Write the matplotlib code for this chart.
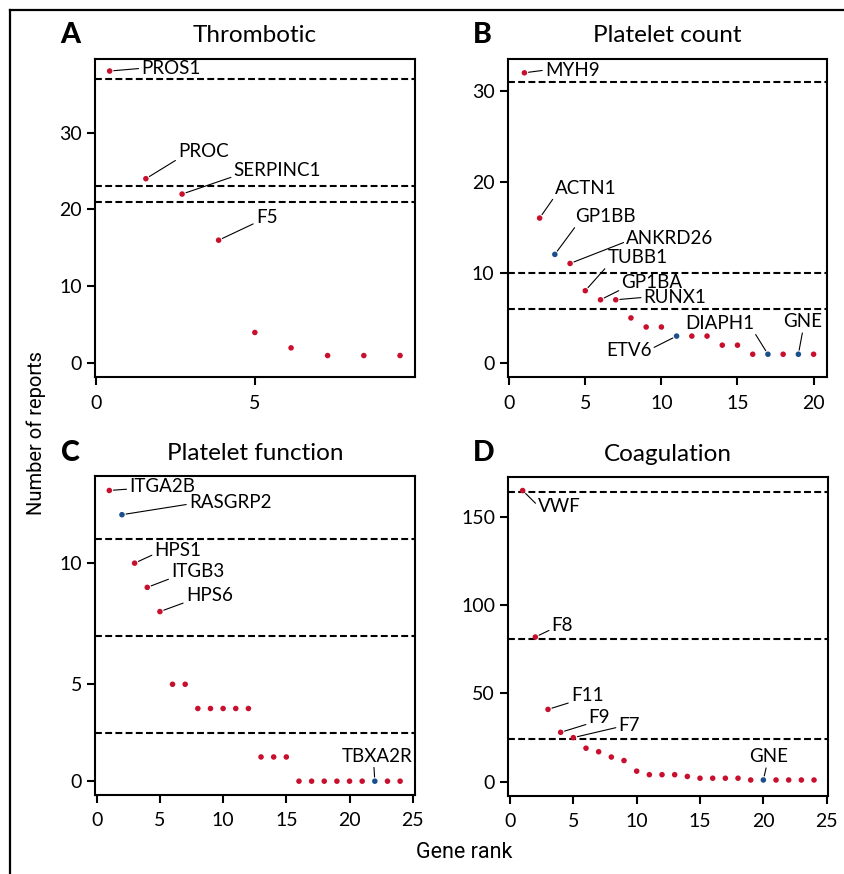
import matplotlib
matplotlib.use("Agg")
import matplotlib.pyplot as plt
from matplotlib.lines import Line2D

plt.rcParams['font.family'] = ['Lato', 'DejaVu Sans']

RED = '#c8102e'
BLUE = '#1b4f8c'

# panel A - thrombotic
a_rank = [0.43, 1.57, 2.71, 3.86, 5.0, 6.14, 7.29, 8.43, 9.57]
a_reports = [38, 24, 22, 16, 4, 2, 1, 1, 1]
a_blue = []
a_cutoffs = [37, 23, 21]
a_genes = ['PROS1', 'PROC', 'SERPINC1', 'F5']

# panel B - platelet count
b_rank = list(range(1, 21))
b_reports = [32, 16, 12, 11, 8, 7, 7, 5, 4, 4, 3, 3, 3, 2, 2, 1, 1, 1, 1, 1]
b_blue = [3, 11, 17, 19]
b_cutoffs = [31, 10, 6]
b_genes = ['MYH9', 'ACTN1', 'GP1BB', 'ANKRD26', 'TUBB1', 'GP1BA', 'RUNX1',
           'ETV6', 'DIAPH1', 'GNE']
b_gene_rank = [1, 2, 3, 4, 5, 6, 7, 11, 17, 19]

# panel C - platelet function
c_rank = list(range(1, 25))
c_reports = [13, 12, 10, 9, 8, 5, 5, 4, 4, 4, 4, 4, 2, 2, 2,
             1, 1, 1, 1, 1, 1, 1, 1, 1]
c_blue = [2, 22]
c_cutoffs = [11, 7, 3]
c_ticks = [1, 5, 10]
c_tick_labels = ['0', '5', '10']
c_genes = ['ITGA2B', 'RASGRP2', 'HPS1', 'ITGB3', 'HPS6', 'TBXA2R']
c_gene_rank = [1, 2, 3, 4, 5, 22]

# panel D - coagulation
d_rank = list(range(1, 25))
d_reports = [165, 82, 41, 28, 25, 19, 17, 14, 12, 6, 4, 4, 4, 3, 2, 2, 2, 2,
             1, 1, 1, 1, 1, 1]
d_blue = [20]
d_cutoffs = [164, 81, 24]
d_genes = ['VWF', 'F8', 'F11', 'F9', 'F7', 'GNE']
d_gene_rank = [1, 2, 3, 4, 5, 20]

# label placement: (dx px, dy px, ha, relpos)
A_POS = [(31.7, 2.7, 'left', (0, 0.5)), (32.3, 26.7, 'left', (0, 0.1)),
         (51.6, 23.6, 'left', (0, 0.15)), (37.3, 22.7, 'left', (0, 0.2))]
B_POS = [(20.6, 2.7, 'left', (0, 0.5)), (15, 30, 'left', (0, 0)),
         (20, 38, 'left', (0.03, 0)), (56.3, 25.4, 'left', (0, 0.3)),
         (22.3, 32.7, 'left', (0, 0.05)), (21, 17.3, 'left', (0, 0.1)),
         (28, 2.4, 'left', (0, 0.5)), (-25.3, -14.4, 'right', (1, 0.6)),
         (-14, 31, 'right', (1, 0)), (4.5, 32.6, 'center', (0.5, 0))]
C_POS = [(20, 4, 'left', (0, 0.35)), (67, 12.3, 'left', (0, 0.4)),
         (20, 12.6, 'left', (0, 0.3)), (24, 16, 'left', (0, 0.1)),
         (26, 16.3, 'left', (0, 0.1)), (2.5, 25, 'center', (0.45, 0))]
D_POS = [(15.6, -16.3, 'left', (0, 0.55)), (16.4, 11.3, 'left', (0, 0.3)),
         (23, 14, 'left', (0, 0.1)), (28, 14.6, 'left', (0, 0.15)),
         (45.3, 12.3, 'left', (0, 0.4)), (5.3, 23.3, 'center', (0.45, 0))]


def draw_panel(ax, rank, reports, blue_ranks, cutoffs, genes, gene_idx, pos,
               letter, title):
    for c in cutoffs:
        ax.axhline(c, color='black', lw=1.5, dashes=(3.3, 1.6), zorder=1)
    ranks_int = list(range(1, len(rank) + 1))
    colors = [BLUE if r in blue_ranks else RED for r in ranks_int]
    ax.scatter(rank, reports, s=16, c=colors, linewidths=0, zorder=3)
    for g, i, (dx, dy, ha, rp) in zip(genes, gene_idx, pos):
        ax.annotate(g, xy=(rank[i - 1], reports[i - 1]), xytext=(dx, dy),
                    textcoords='offset pixels', ha=ha, va='center',
                    fontsize=13.5,
                    arrowprops=dict(arrowstyle='-', lw=0.8, color='black',
                                    shrinkA=0, shrinkB=3, relpos=rp))
    for s in ax.spines.values():
        s.set_linewidth(1.5)
    ax.tick_params(direction='out', length=5.5, width=1.5, labelsize=14)
    ax.tick_params(axis='y', pad=4)
    ax.tick_params(axis='x', pad=7)
    ax.text(0.5, 1.072, title, transform=ax.transAxes, ha='center',
            va='center', fontsize=17.5)
    ax.text(-0.078, 1.075, letter, transform=ax.transAxes, ha='center',
            va='center', fontsize=20.5, fontweight='black')


fig = plt.figure(figsize=(8.44, 8.74), dpi=100)
W, H = 0.3787, 0.3645
axA = fig.add_axes([0.1126, 0.5683, W, H])
axB = fig.add_axes([0.6015, 0.5683, W, H])
axC = fig.add_axes([0.1126, 0.0904, W, H])
axD = fig.add_axes([0.6023, 0.0896, W, H])

draw_panel(axA, a_rank, a_reports, a_blue, a_cutoffs, a_genes, [1, 2, 3, 4],
           A_POS, 'A', 'Thrombotic')
axA.set_xlim(-0.03, 10.03)
axA.set_ylim(-1.83, 39.6)
axA.set_xticks([0, 5])
axA.set_yticks([0, 10, 20, 30])

draw_panel(axB, b_rank, b_reports, b_blue, b_cutoffs, b_genes, b_gene_rank,
           B_POS, 'B', 'Platelet count')
axB.set_xlim(-0.1, 20.9)
axB.set_ylim(-1.54, 33.55)
axB.set_xticks([0, 5, 10, 15, 20])
axB.set_yticks([0, 10, 20, 30])

draw_panel(axC, c_rank, c_reports, c_blue, c_cutoffs, c_genes, c_gene_rank,
           C_POS, 'C', 'Platelet function')
axC.set_xlim(-0.13, 25.15)
axC.set_ylim(0.43, 13.58)
axC.set_xticks([0, 5, 10, 15, 20, 25])
axC.set_yticks(c_ticks, labels=c_tick_labels)

draw_panel(axD, d_rank, d_reports, d_blue, d_cutoffs, d_genes, d_gene_rank,
           D_POS, 'D', 'Coagulation')
axD.set_xlim(-0.13, 25.1)
axD.set_ylim(-7.9, 172.6)
axD.set_xticks([0, 5, 10, 15, 20, 25])
axD.set_yticks([0, 50, 100, 150])

narrow = ['Liberation Sans Narrow', 'DejaVu Sans Condensed', 'Roboto']
fig.text(464 / 844, 1 - 853 / 874, 'Gene rank', ha='center', va='center',
         fontsize=15.5, family=narrow)
fig.text(36 / 844, 1 - 433 / 874, 'Number of reports', ha='center',
         va='center', rotation=90, fontsize=14.5, family=narrow)

# outer frame (top and left only)
fig.add_artist(Line2D([9.5 / 844, 1], [1 - 9.5 / 874] * 2, color='black',
                      lw=1.6, transform=fig.transFigure))
fig.add_artist(Line2D([9.5 / 844] * 2, [0, 1 - 9.5 / 874], color='black',
                      lw=1.6, transform=fig.transFigure))

fig.savefig('out.png', dpi=100)
